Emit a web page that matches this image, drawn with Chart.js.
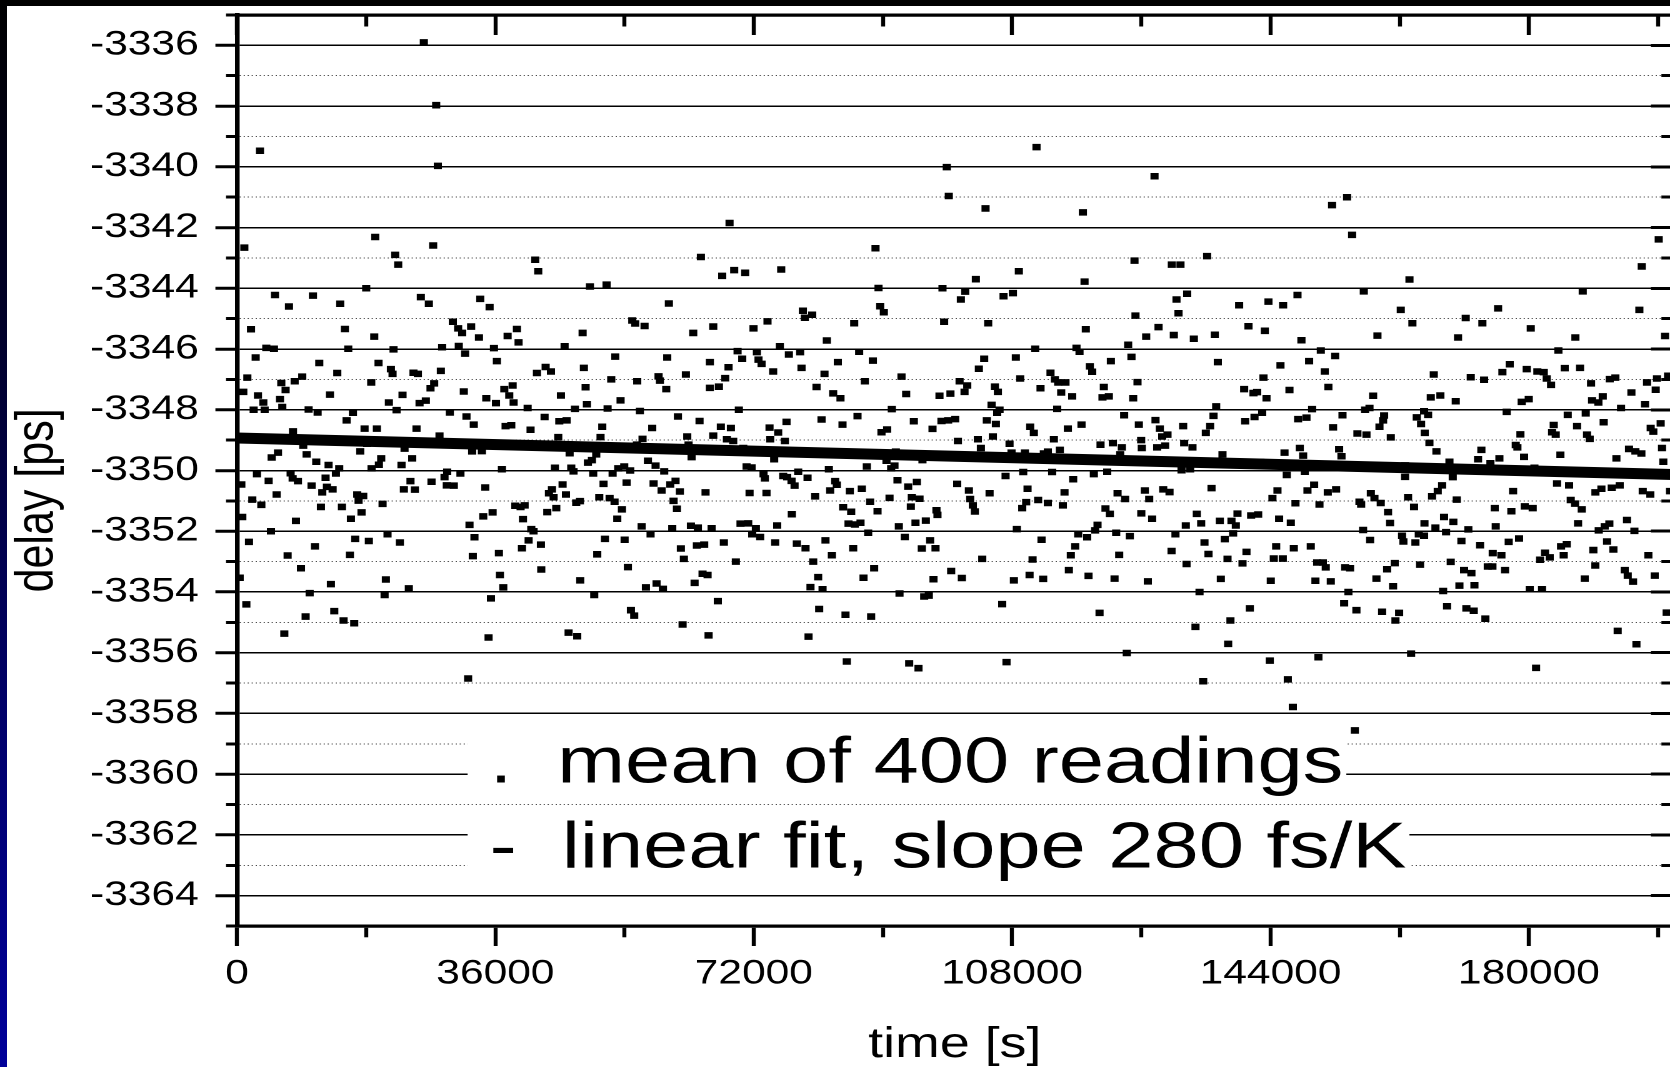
<!DOCTYPE html>
<html>
<head>
<meta charset="utf-8">
<script src="https://cdn.jsdelivr.net/npm/chart.js@4.4.1/dist/chart.umd.min.js"></script>
<style>
html,body{margin:0;padding:0;width:1670px;height:1067px;overflow:hidden;
  background:linear-gradient(180deg,#000000 0%,#000028 30%,#000066 65%,#00009a 100%);}
#paper{position:absolute;left:7px;top:6px;right:0;bottom:0;background:#ffffff;}
#wrap{position:absolute;left:0;top:0;width:1345px;height:1067px;transform:scaleX(1.25);transform-origin:0 0;}
</style>
</head>
<body>
<div id="paper"></div>
<div id="wrap"><canvas id="c"></canvas></div>
<script>
// ---------------- data (time [s], delay [ps]) ----------------
const segA = [[26030,-3335.9],[27750,-3337.97],[3200,-3339.47],[27980,-3339.97],[1020,-3342.66],[19260,-3342.31],[27330,-3342.59],[22040,-3342.9],[22460,-3343.22],[18000,-3344.0],
[5290,-3344.22],[10580,-3344.24],[7240,-3344.6],[14380,-3344.51],[25610,-3344.29],[26730,-3344.51],[1950,-3345.35],[15030,-3345.34],[19120,-3345.59],[30070,-3345.1],
[30810,-3345.32],[31370,-3345.47],[32620,-3345.26],[2600,-3346.28],[4080,-3345.96],[5150,-3345.99],[15500,-3345.99],[21810,-3346.01],[28580,-3345.94],[30900,-3345.9],
[31780,-3346.15],[11460,-3346.46],[19720,-3346.46],[13970,-3346.79],[21440,-3346.66],[21670,-3346.82],[24590,-3346.78],[25200,-3346.82],[28400,-3346.72],[1440,-3346.94],
[6170,-3347.12],[8030,-3347.06],[9090,-3346.91],[18700,-3347.1],[27470,-3347.13],[26960,-3347.29],[880,-3347.41],[2920,-3347.53],[6770,-3347.35],[5990,-3347.65],
[3670,-3347.76],[12950,-3347.5],[23060,-3347.51],[31600,-3347.4],[21160,-3347.76],[25430,-3347.78],[26310,-3347.7],[2320,-3348.0],[3850,-3348.0],[6310,-3347.91],
[9980,-3347.99],[11230,-3348.09],[16150,-3348.1],[22230,-3348.01],[29650,-3348.09],[31970,-3348.22],[32990,-3348.49],[15270,-3348.35],[17770,-3348.62],[19490,-3348.62],
[25010,-3348.62],[7800,-3348.71],[28210,-3348.85],[9230,-3349.18],[18140,-3349.12],[23340,-3349.28],[32760,-3349.37],[4830,-3349.57],[5710,-3349.41],[9700,-3349.47],
[17170,-3349.37],[20090,-3349.6],[24410,-3349.6],[11040,-3349.71],[12760,-3349.82],[14240,-3349.93],[19770,-3349.81],[18750,-3349.93],[22920,-3349.82],[2780,-3350.12],
[7470,-3350.09],[13780,-3350.1],[29280,-3350.04],[31130,-3350.1],[600,-3350.46],[4410,-3350.34],[7750,-3350.26],[8490,-3350.35],[12340,-3350.24],[10390,-3350.5],
[12530,-3350.54],[13320,-3350.62],[11880,-3350.72],[24170,-3350.35],[27100,-3350.37],[28910,-3350.22],[29230,-3350.49],[30210,-3350.5],[23250,-3350.62],[24780,-3350.63],
[5520,-3350.79],[2130,-3350.96],[3390,-3351.13],[16750,-3350.79],[17590,-3350.84],[16940,-3350.99],[11690,-3351.2],[14620,-3351.2],[20280,-3351.1],[740,-3351.53],
[15870,-3351.59],[17350,-3351.38],[8210,-3351.66],[4730,-3352.0],[32390,-3351.79],[20970,-3352.1],[1670,-3352.35],[16470,-3352.25],[18370,-3352.32],[22690,-3352.37],
[33080,-3352.2],[10860,-3352.5],[7050,-3352.8],[15730,-3352.78],[32850,-3352.82],[8910,-3353.22],[370,-3353.53],[20740,-3353.59],[13080,-3353.74],[10120,-3354.04],
[20560,-3354.1],[23940,-3353.88],[1300,-3354.41],[9560,-3354.81],[13550,-3354.63],[14850,-3354.94],[16330,-3355.03],[6590,-3355.37],[32200,-3356.85]];

const segB = [[41550,-3343.06],[41970,-3343.44],[49170,-3343.94],[51490,-3343.88],[64630,-3342.97],[33890,-3344.35],[35190,-3344.62],[60170,-3344.5],[33710,-3345.62],[37700,-3345.57],
[39000,-3345.34],[39230,-3345.78],[48150,-3345.47],[55070,-3345.06],[55480,-3345.16],[56780,-3345.24],[63560,-3345.47],[66350,-3345.26],[35800,-3345.97],[45640,-3345.91],
[36210,-3346.4],[52700,-3346.25],[59940,-3346.28],[65880,-3346.43],[41790,-3346.79],[43000,-3346.59],[43740,-3346.74],[48330,-3346.62],[52140,-3347.0],[55760,-3347.06],
[58730,-3346.9],[58920,-3347.04],[62540,-3346.84],[38400,-3347.2],[37240,-3347.32],[37930,-3347.53],[38540,-3347.76],[34730,-3347.62],[36080,-3347.78],[48570,-3347.26],
[45130,-3347.53],[48750,-3347.82],[53440,-3347.69],[59800,-3347.32],[65880,-3347.28],[40490,-3347.94],[47080,-3347.97],[51630,-3347.96],[56130,-3348.04],[37420,-3348.54],
[38210,-3348.51],[42850,-3348.24],[40900,-3348.66],[44900,-3348.38],[45920,-3348.35],[50890,-3348.56],[57850,-3348.6],[61430,-3348.22],[64440,-3348.37],[44760,-3348.9],
[50650,-3348.9],[56500,-3348.96],[62730,-3348.88],[66350,-3348.85],[34120,-3349.36],[46340,-3349.43],[50050,-3349.47],[55720,-3349.15],[62910,-3349.15],[63330,-3349.56],
[48890,-3349.74],[49450,-3349.66],[57250,-3349.68],[58320,-3349.84],[36910,-3349.96],[44290,-3349.91],[46570,-3349.91],[46890,-3350.03],[49630,-3350.1],[52330,-3350.1],
[53110,-3349.93],[53950,-3349.87],[54790,-3350.0],[59520,-3350.03],[34590,-3350.56],[45360,-3350.46],[51070,-3350.44],[54280,-3350.4],[58040,-3350.43],[60360,-3350.46],
[61100,-3350.34],[59150,-3350.66],[61700,-3350.69],[65280,-3350.72],[43880,-3350.62],[43460,-3350.75],[44110,-3350.88],[45830,-3350.79],[47260,-3351.06],[47780,-3351.01],
[50470,-3350.88],[51910,-3350.91],[52600,-3351.03],[60820,-3351.0],[38770,-3351.16],[39510,-3351.2],[40070,-3351.15],[44480,-3351.24],[43230,-3351.37],[53630,-3351.28],
[61290,-3351.26],[35610,-3351.38],[34310,-3351.51],[39840,-3351.6],[52980,-3351.59],[41000,-3351.93],[41320,-3352.0],[56370,-3351.84],[57620,-3352.1],[60640,-3351.9],
[63240,-3351.82],[64210,-3351.88],[66120,-3351.9],[40630,-3352.3],[39700,-3352.56],[42340,-3352.44],[36490,-3352.72],[50190,-3352.76],[51260,-3352.25],[54000,-3352.28],
[61840,-3352.57],[62260,-3352.91],[64070,-3352.47],[65090,-3352.44],[42390,-3353.26],[54460,-3353.18],[36630,-3353.44],[37100,-3353.85],[47820,-3353.62],[56970,-3353.85],
[58450,-3353.72],[59340,-3353.9],[63750,-3353.7],[64860,-3353.4],[65560,-3353.44],[35380,-3354.21],[49770,-3354.1],[54880,-3354.6],[55340,-3354.78],[62080,-3355.07],
[35050,-3355.5],[46200,-3355.34],[47400,-3355.46],[65700,-3355.43]];

const segC = [[98890,-3340.01],[99170,-3340.96],[68620,-3341.85],[88960,-3342.68],[67600,-3343.59],[69270,-3343.4],[70800,-3343.49],[75820,-3343.38],[89380,-3343.99],[98290,-3344.0],
[89610,-3344.59],[90120,-3344.79],[71960,-3345.32],[73910,-3345.09],[78840,-3344.74],[79110,-3344.97],[80140,-3344.87],[85990,-3345.15],[98520,-3345.1],[82180,-3345.72],
[69740,-3346.07],[72430,-3346.1],[75630,-3345.91],[78460,-3346.1],[76890,-3346.18],[86680,-3346.09],[70390,-3346.32],[72660,-3346.35],[73080,-3346.49],[83710,-3346.43],
[88590,-3346.38],[68480,-3346.6],[74700,-3346.74],[78650,-3346.62],[81850,-3346.82],[68020,-3346.96],[67140,-3347.24],[80740,-3347.25],[83060,-3347.46],[84080,-3347.62],
[87470,-3347.06],[92580,-3346.91],[93230,-3347.48],[97870,-3347.54],[99400,-3347.47],[69920,-3348.0],[91230,-3347.98],[67410,-3348.56],[68810,-3348.6],[68250,-3348.97],
[69130,-3349.03],[74190,-3348.59],[74290,-3348.97],[75400,-3348.75],[76560,-3348.4],[76330,-3349.03],[81440,-3348.32],[84360,-3348.49],[86450,-3348.21],[94300,-3348.38],
[98150,-3348.37],[99080,-3348.35],[96900,-3348.63],[89790,-3348.74],[90580,-3348.65],[91790,-3349.38],[90490,-3349.68],[70530,-3349.26],[74840,-3349.63],[96060,-3349.49],
[95500,-3349.66],[70990,-3349.87],[71690,-3349.9],[87750,-3349.87],[91140,-3349.93],[91600,-3349.84],[82460,-3349.96],[78190,-3350.04],[73360,-3350.12],[73540,-3350.26],
[76100,-3350.18],[76650,-3350.22],[77260,-3350.34],[77680,-3350.5],[79490,-3350.24],[83340,-3350.35],[83570,-3350.47],[92020,-3350.32],[93510,-3350.53],[94720,-3350.38],
[71410,-3350.74],[73770,-3350.74],[80550,-3350.85],[82640,-3350.66],[85380,-3350.68],[87050,-3350.6],[88210,-3351.03],[90910,-3350.9],[94020,-3350.88],[95090,-3350.93],
[84450,-3351.21],[85570,-3351.36],[89240,-3351.34],[93880,-3351.19],[97450,-3351.31],[97590,-3351.46],[77300,-3351.44],[70150,-3351.75],[71220,-3351.74],[72290,-3351.9],
[71780,-3352.1],[72890,-3352.19],[75260,-3351.81],[85200,-3351.75],[86080,-3351.78],[86870,-3351.72],[87940,-3352.05],[92210,-3351.84],[93040,-3352.19],[94530,-3351.72],
[95970,-3351.65],[67830,-3352.37],[74980,-3352.37],[78000,-3352.41],[79210,-3352.56],[81990,-3352.3],[82880,-3352.79],[85850,-3352.56],[95410,-3352.57],[96570,-3352.3],
[97320,-3352.56],[69500,-3353.0],[80280,-3353.0],[80970,-3353.51],[79900,-3353.84],[81580,-3353.91],[87290,-3353.53],[88770,-3353.22],[97040,-3353.58],[99500,-3353.31],
[66990,-3354.3],[92300,-3354.05],[95740,-3354.15],[96390,-3354.12],[81110,-3354.56],[84780,-3354.75],[88350,-3354.81],[79630,-3355.47],[84960,-3356.29],[93650,-3356.35],
[94950,-3356.51]];

const segD = [[111390,-3339.35],[104290,-3341.37],[117850,-3341.5],[127830,-3340.31],[108930,-3343.44],[102940,-3343.7],[101460,-3344.11],[100850,-3344.37],[106800,-3344.26],[108100,-3344.16],
[118080,-3343.78],[125040,-3343.09],[130240,-3343.22],[131450,-3343.22],[130890,-3344.37],[132380,-3344.18],[104660,-3345.15],[118260,-3345.35],[125180,-3344.9],[128390,-3345.28],
[126670,-3345.59],[131170,-3344.82],[130520,-3345.54],[124160,-3345.86],[111210,-3345.99],[116960,-3345.96],[117380,-3346.09],[104100,-3346.32],[108510,-3346.28],[103360,-3346.65],
[118820,-3346.57],[119150,-3346.75],[121750,-3346.4],[124620,-3346.26],[113340,-3346.78],[100670,-3347.06],[101360,-3347.41],[101740,-3347.2],[105590,-3347.24],[106010,-3347.41],
[109120,-3346.97],[111950,-3347.29],[113950,-3347.0],[114410,-3347.1],[115430,-3347.1],[114830,-3347.43],[116360,-3347.56],[120770,-3347.25],[120580,-3347.59],[121470,-3347.56],
[125460,-3347.09],[124860,-3347.62],[105130,-3347.84],[106240,-3348.0],[105910,-3348.1],[114270,-3347.97],[100060,-3348.31],[104470,-3348.35],[105730,-3348.47],[110510,-3348.56],
[111020,-3348.76],[115760,-3348.62],[117660,-3348.49],[123600,-3348.18],[125650,-3348.49],[127970,-3348.34],[128570,-3348.62],[131820,-3348.54],[100440,-3349.03],[103220,-3348.97],
[103640,-3349.26],[105310,-3348.88],[107630,-3349.12],[113810,-3348.97],[114640,-3349.32],[120310,-3349.15],[122030,-3349.1],[123280,-3349.24],[125970,-3349.0],[126060,-3349.26],
[128200,-3349.24],[128900,-3348.88],[129640,-3348.82],[129310,-3349.18],[131960,-3349.1],[107910,-3349.41],[109770,-3349.41],[112410,-3349.44],[112970,-3349.38],[123050,-3349.47],
[131590,-3349.99],[107080,-3350.18],[109540,-3350.05],[113570,-3350.05],[119380,-3350.12],[121240,-3350.04],[100340,-3350.44],[116500,-3350.29],[101970,-3350.66],[102150,-3350.94],
[102520,-3351.15],[102800,-3351.35],[104850,-3350.75],[110140,-3350.6],[109950,-3351.04],[109400,-3351.24],[111620,-3350.97],[112970,-3351.07],[115060,-3351.15],[115290,-3350.72],
[122680,-3350.75],[123740,-3350.94],[126480,-3350.66],[127090,-3350.94],[129040,-3350.62],[129920,-3350.71],[121000,-3351.25],[121610,-3351.43],[125990,-3351.41],[127500,-3351.59],
[108650,-3351.93],[117200,-3352.1],[118450,-3352.2],[119560,-3351.97],[119890,-3351.79],[122490,-3352.05],[124390,-3352.16],[130750,-3352.1],[132190,-3351.81],[112090,-3352.28],
[116780,-3352.5],[116170,-3352.79],[122910,-3352.78],[130200,-3352.65],[103830,-3352.91],[110840,-3352.93],[132290,-3353.08],[100990,-3353.54],[108240,-3353.62],[110420,-3353.44],
[112320,-3353.57],[115900,-3353.28],[118640,-3353.47],[122260,-3353.56],[126900,-3353.65],[106610,-3354.4],[120170,-3354.69],[123970,-3356.01],[107210,-3356.31]];

const segE = [[152570,-3341.26],[154660,-3341.0],[155360,-3342.24],[135160,-3342.94],[139620,-3344.56],[143710,-3344.44],[145750,-3344.56],[147750,-3344.22],[156990,-3344.1],[163350,-3343.71],
[162140,-3344.71],[163760,-3345.15],[133310,-3345.66],[136230,-3345.53],[140920,-3345.25],[143200,-3345.4],[148300,-3345.71],[158890,-3345.56],[151000,-3346.05],[153000,-3346.23],
[136650,-3346.43],[145380,-3346.54],[149370,-3346.4],[151550,-3346.74],[143010,-3346.94],[152060,-3347.25],[140320,-3347.32],[141620,-3347.45],[142130,-3347.42],[143430,-3347.62],
[146630,-3347.35],[158290,-3347.54],[136420,-3347.89],[136050,-3348.2],[135580,-3348.54],[134980,-3348.76],[140460,-3348.38],[141760,-3348.24],[142830,-3348.1],[147840,-3348.31],
[149000,-3348.26],[149790,-3347.98],[154020,-3348.18],[152710,-3348.58],[156100,-3348.78],[157360,-3348.82],[157170,-3348.0],[157780,-3347.94],[159820,-3348.19],[159680,-3348.35],
[159170,-3348.56],[160750,-3348.91],[164370,-3348.25],[164970,-3348.47],[165390,-3348.05],[165480,-3348.76],[133120,-3349.24],[137300,-3349.47],[145940,-3349.41],[148070,-3349.26],
[148540,-3349.51],[153550,-3349.3],[153880,-3349.53],[132800,-3349.96],[142590,-3349.72],[146260,-3350.15],[148770,-3350.04],[162740,-3350.21],[162740,-3349.83],[135770,-3350.58],
[144960,-3350.66],[144260,-3350.91],[149140,-3350.66],[150070,-3350.47],[151970,-3350.72],[153130,-3350.62],[147470,-3351.08],[150810,-3351.12],[156380,-3351.03],[156620,-3351.12],
[157970,-3350.75],[158470,-3350.91],[159350,-3351.07],[160370,-3351.37],[163160,-3350.88],[163990,-3351.2],[133720,-3351.43],[134330,-3351.74],[136930,-3351.66],[138550,-3351.66],
[139390,-3351.42],[139160,-3351.81],[141290,-3351.48],[142270,-3351.45],[145190,-3351.59],[146820,-3351.72],[160650,-3351.73],[138780,-3352.07],[137620,-3352.26],[156890,-3351.96],
[157870,-3352.29],[162320,-3352.15],[162510,-3352.34],[164180,-3352.37],[164650,-3352.1],[165390,-3352.15],[134790,-3352.37],[135350,-3352.75],[138000,-3352.91],[140640,-3352.68],
[140090,-3353.06],[144780,-3352.5],[144450,-3352.9],[145700,-3352.9],[147240,-3352.56],[149600,-3352.5],[150490,-3353.03],[151280,-3353.03],[151690,-3353.19],[154390,-3353.19],
[155080,-3353.22],[160240,-3353.25],[161300,-3353.05],[164830,-3353.1],[137070,-3353.57],[144030,-3353.63],[150250,-3353.63],[152390,-3353.65],[158750,-3353.56],[161070,-3353.81],
[134100,-3354.0],[154850,-3354.0],[154250,-3354.37],[155960,-3354.6],[141110,-3354.54],[159540,-3354.65],[161910,-3354.69],[161400,-3354.94],[133540,-3355.15],[138410,-3354.94],
[138090,-3355.71],[163580,-3356.03],[150670,-3356.15],[143890,-3356.26],[134610,-3356.94],[146400,-3356.88],[147100,-3357.79],[155740,-3358.56]];

const segF = [[198080,-3342.39],[195710,-3343.28],[187490,-3344.1],[175700,-3344.66],[195380,-3344.71],[171190,-3344.98],[173510,-3345.15],[180250,-3345.32],[170120,-3345.62],[186470,-3345.62],
[198960,-3345.57],[184100,-3346.05],[177320,-3346.5],[176300,-3346.76],[179690,-3346.66],[181170,-3346.74],[182060,-3346.76],[182470,-3346.97],[183080,-3347.18],[184980,-3346.63],
[187120,-3346.62],[166740,-3346.84],[171890,-3346.93],[173750,-3347.01],[188650,-3347.13],[191250,-3346.99],[192040,-3346.94],[196450,-3347.1],[197840,-3346.97],[199380,-3346.88],
[197660,-3347.34],[194270,-3347.43],[166320,-3347.59],[167660,-3347.53],[169800,-3347.72],[178990,-3347.74],[179970,-3347.65],[188790,-3347.69],[189670,-3347.76],[190280,-3347.56],
[192830,-3347.94],[196170,-3347.82],[176900,-3348.07],[185400,-3348.17],[187910,-3348.12],[165950,-3348.17],[166130,-3349.09],[167110,-3349.37],[168920,-3349.71],[169380,-3350.22],
[178810,-3348.81],[178160,-3349.16],[178390,-3349.24],[179320,-3349.55],[173370,-3349.32],[172910,-3349.63],[174630,-3349.76],[175880,-3349.6],[180760,-3349.91],[183450,-3348.5],
[183220,-3348.74],[183730,-3348.82],[184380,-3349.48],[186700,-3348.54],[188090,-3348.82],[188460,-3348.96],[190410,-3348.41],[192180,-3349.6],[193940,-3349.29],[194830,-3349.37],
[195660,-3349.44],[196960,-3348.6],[197330,-3348.72],[198350,-3348.45],[198540,-3349.26],[198720,-3349.71],[193200,-3350.03],[167900,-3350.49],[167290,-3350.68],[166500,-3350.85],
[169940,-3350.96],[177790,-3350.68],[175230,-3351.24],[177550,-3351.34],[179410,-3351.18],[180520,-3351.24],[183910,-3350.43],[185590,-3350.49],[185820,-3350.97],[186420,-3351.09],
[187350,-3351.28],[189260,-3350.72],[190090,-3350.6],[191530,-3350.57],[192640,-3350.49],[195850,-3350.68],[196910,-3350.79],[199650,-3350.68],[165440,-3351.74],[166970,-3351.88],
[168170,-3351.53],[168450,-3352.03],[169470,-3351.69],[171560,-3351.94],[175370,-3351.84],[178620,-3352.24],[186840,-3351.74],[189720,-3351.97],[190550,-3351.84],[191200,-3351.75],
[193660,-3351.63],[194690,-3351.99],[170590,-3352.32],[173190,-3352.46],[177180,-3352.35],[184470,-3352.5],[185260,-3352.43],[184840,-3352.79],[190880,-3352.34],[191760,-3352.6],
[188970,-3352.62],[196640,-3352.79],[169100,-3353.01],[174950,-3352.72],[176160,-3352.79],[174260,-3353.16],[174910,-3353.16],[176670,-3353.28],[181550,-3352.94],[182240,-3352.71],
[182890,-3352.86],[189250,-3353.13],[193340,-3353.28],[193760,-3353.46],[194500,-3353.66],[197520,-3353.46],[170960,-3353.28],[171980,-3353.38],[170310,-3353.79],[172400,-3353.78],
[168040,-3353.97],[180110,-3353.91],[181820,-3353.91],[187770,-3353.56],[168590,-3354.47],[171280,-3354.54],[172310,-3354.62],[173930,-3354.88],[199190,-3354.68],[192360,-3355.28],
[194970,-3355.72],[180990,-3356.5]];

// linear fit (end points of the drawn fit line)
const fitTimes  = [0, 200000];
const fitDelays = [-3348.93, -3350.13];

// tick labels
const xTickLabels = ['0','36000','72000','108000','144000','180000'];
const yTickLabels = ['-3336','-3338','-3340','-3342','-3344','-3346','-3348','-3350','-3352','-3354','-3356','-3358','-3360','-3362','-3364'];
const legendLabels = ['.  mean of 400 readings', '-  linear fit, slope 280 fs/K'];
const xTitle = 'time [s]';
const yTitle = 'delay [ps]';

// ---------------- layout / style ----------------
const FONT = "'Liberation Sans', Arial, Helvetica, sans-serif";
const X_MIN = 0, X_MAX = 200000, X_STEP = 18000, X_NTICKS = 12;
const Y_MIN = -3365, Y_MAX = -3335, Y_STEP = 1;
const LEGEND_T = 35200;                       // legend anchor (time units)
const LEGEND_BASE = [-3360.28, -3363.08];     // legend baselines (delay units)

const xTickValues = Array.from({length: X_NTICKS}, (_, i) => i * X_STEP);
const setXTicks = s => { s.ticks = xTickValues.map(v => ({value: v})); };

const readings = [...segA, ...segB, ...segC, ...segD, ...segE, ...segF];
const isMajorX = v => xTickLabels.includes(String(v));
const isMajorY = v => yTickLabels.includes(String(v));
const minorY = c => !!(c && c.tick) && !isMajorY(c.tick.value);
const minorX = c => !!(c && c.tick) && !isMajorX(c.tick.value);

const legendPlugin = {
  id: 'textLegend',
  beforeDatasetsDraw(chart) {
    const {ctx, scales} = chart;
    const x0 = scales.x.getPixelForValue(LEGEND_T);
    ctx.save();
    ctx.font = '65px ' + FONT;
    ctx.textAlign = 'left';
    ctx.textBaseline = 'alphabetic';
    legendLabels.forEach((txt, i) => {
      const base = scales.y.getPixelForValue(LEGEND_BASE[i]);
      const w = ctx.measureText(txt).width;
      ctx.fillStyle = '#ffffff';
      ctx.fillRect(x0 - 17.6, base - 58, w + 20, 75);
      ctx.fillStyle = '#000000';
      ctx.fillText(txt, x0, base);
    });
    ctx.restore();
  }
};

new Chart(document.getElementById('c'), {
  type: 'scatter',
  data: {
    datasets: [
      {
        label: 'mean of 400 readings',
        data: readings.map(p => ({x: p[0], y: p[1]})),
        pointStyle: 'rect',
        pointRadius: 4.6,
        pointBorderWidth: 0,
        backgroundColor: '#000000',
        borderColor: '#000000',
        xAxisID: 'x', yAxisID: 'y'
      },
      {
        label: 'linear fit, slope 280 fs/K',
        data: fitTimes.map((t, i) => ({x: t, y: fitDelays[i]})),
        showLine: true,
        borderColor: '#000000',
        borderWidth: 11,
        pointRadius: 0,
        xAxisID: 'x', yAxisID: 'y'
      }
    ]
  },
  options: {
    responsive: true,
    maintainAspectRatio: false,
    devicePixelRatio: 2,
    animation: false,
    events: [],
    layout: { autoPadding: false, padding: {left: 0, right: 7, top: 15, bottom: 0} },
    plugins: { legend: {display: false}, tooltip: {enabled: false} },
    scales: {
      x: {
        type: 'linear', position: 'bottom', min: X_MIN, max: X_MAX,
        afterBuildTicks: setXTicks,
        afterFit(s) { s.height = 141; s.paddingLeft = 0; s.paddingRight = 0; },
        ticks: {
          autoSkip: false, maxRotation: 0, minRotation: 0,
          padding: 11, color: '#000000', font: {family: FONT, size: 34, lineHeight: 1},
          callback: v => isMajorX(v) ? String(v) : ''
        },
        grid: {
          drawOnChartArea: false, drawTicks: true, tickLength: 20, tickWidth: 3.2, tickColor: '#000000',
          tickBorderDash: c => minorX(c) ? [9.5, 100] : []
        },
        border: {display: true, color: '#000000', width: 3.3},
        title: {display: true, text: xTitle, color: '#000000',
                font: {family: FONT, size: 43, lineHeight: 1}, padding: {top: 0, bottom: 0.5}}
      },
      xTop: {
        type: 'linear', position: 'top', min: X_MIN, max: X_MAX,
        afterBuildTicks: setXTicks,
        afterFit(s) { s.height = 0; s.paddingLeft = 0; s.paddingRight = 0; },
        ticks: { autoSkip: false, maxRotation: 0, minRotation: 0,
                 font: {size: 1, lineHeight: 1}, callback: () => '' },
        grid: {
          drawOnChartArea: false, drawTicks: true, tickLength: -20, tickWidth: 3.2, tickColor: '#000000',
          tickBorderDash: c => minorX(c) ? [0, 8.5, 40] : []
        },
        border: {display: true, color: '#000000', width: 3.3}
      },
      y: {
        type: 'linear', position: 'left', min: Y_MIN, max: Y_MAX,
        afterFit(s) { s.width = 189.6; s.paddingTop = 0; s.paddingBottom = 0; },
        ticks: {
          stepSize: Y_STEP, autoSkip: false, padding: 13.3, color: '#000000',
          font: {family: FONT, size: 34},
          callback: v => isMajorY(v) ? String(v) : ''
        },
        grid: {
          drawOnChartArea: true, drawTicks: true, tickLength: 17.3, tickWidth: 3, tickColor: '#000000',
          color: c => minorY(c) ? '#4a4a4a' : '#000000',
          lineWidth: c => minorY(c) ? 1 : 1.5,
          tickBorderDash: c => minorY(c) ? [0, 8.5, 40] : []
        },
        border: {display: true, color: '#000000', width: 3.7, dash: c => minorY(c) ? [1, 2.2] : []},
        title: {display: true, text: yTitle + '     ', color: '#000000',
                font: {family: FONT, size: 43, lineHeight: 1}, padding: {top: 8.5, bottom: 0}}
      },
      yRight: {
        type: 'linear', position: 'right', min: Y_MIN, max: Y_MAX,
        afterFit(s) { s.width = 0; s.paddingTop = 0; s.paddingBottom = 0; },
        ticks: { stepSize: Y_STEP, autoSkip: false, font: {size: 1, lineHeight: 1}, callback: () => '' },
        grid: {
          drawOnChartArea: false, drawTicks: true, tickLength: -17.3, tickWidth: 3, tickColor: '#000000',
          tickBorderDash: c => minorY(c) ? [10.6, 100] : []
        },
        border: {display: true, color: '#000000', width: 3.7}
      }
    }
  },
  plugins: [legendPlugin]
});
</script>
</body>
</html>
